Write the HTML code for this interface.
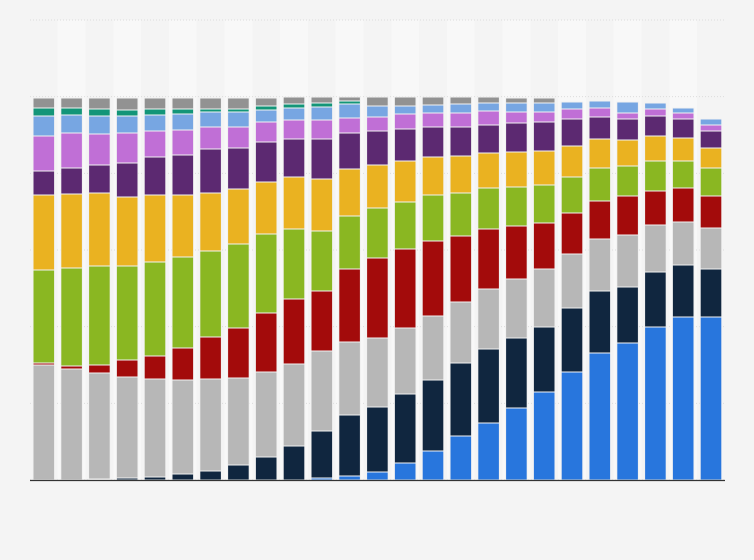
<!DOCTYPE html>
<html><head><meta charset="utf-8"><style>
html,body{margin:0;padding:0;background:#f4f4f4;}
svg{display:block;}
</style></head><body>
<svg id="c" width="754" height="560" xmlns="http://www.w3.org/2000/svg"></svg>
<script>
const cols=["#2876dd","#10263f","#b7b7b7","#a30b0b","#8ab722","#eab221","#5c2971","#c06fd6","#77a6e2","#139578","#929292"];
const d=[
[480,480,365,363,270,195,171,136,116,108,98],
[480,480,369,366,268,194,168,133,115,108,98],
[480,479,373,365,266,193,165,134,116,109,98],
[480,478,377,360,266,197,163,133,116,110,98],
[480,477,379,356,262,195,157,131,115,109,98],
[480,474,380,348,257,195,155,130,114,109,98],
[480,471,379,337,251,193,149,127,112,109,98],
[480,465,378,328,244,189,148,127,112,109,98],
[480,457,372,313,234,182,142,122,110,106,98],
[480,446,364,299,229,177,139,120,108,104,97],
[478,431,351,291,231,179,139,120,107,103,97],
[476,415,342,269,216,169,133,118,104,101,97],
[472,407,338,258,208,165,131,117,106,106,97],
[463,394,328,249,202,161,129,114,106,106,97],
[451,380,316,241,195,157,127,113,105,105,97],
[436,363,302,236,193,156,127,113,104,104,97],
[423,349,289,229,188,153,125,111,103,103,97],
[408,338,279,226,187,152,123,112,103,103,98],
[392,327,269,223,185,151,122,112,103,103,98],
[372,308,254,213,177,146,119,109,102,102,102],
[353,291,239,201,168,139,117,108,101,101,101],
[343,287,235,196,166,140,119,113,102,102,102],
[327,272,225,191,161,136,116,109,103,103,103],
[317,265,222,188,161,138,119,113,108,108,108],
[317,269,228,196,168,148,131,125,119,119,119]];
let s='';
const p=27.8,x0=33,w=21.6;
for(let i=0;i<25;i++){ if(i%2==1) s+=`<rect x="${x0+i*p-3.1}" y="20" width="${p}" height="460" fill="#f8f8f8"/>`; }
for(let k=0;k<7;k++){const y=20+k*76.67; s+=`<line x1="30" x2="725" y1="${y}" y2="${y}" stroke="#dcdcdc" stroke-dasharray="1,2"/>`;}
for(let i=0;i<25;i++){let prev=480;const x=x0+i*p;
 for(let j=0;j<11;j++){const t=d[i][j];if(prev-t>0.5){s+=`<rect x="${x}" y="${t}" width="${w}" height="${prev-t}" fill="${cols[j]}" stroke="#f2f2f2" stroke-width="1"/>`;}prev=t;}}
s+=`<line x1="30" x2="725" y1="480.5" y2="480.5" stroke="#333" stroke-width="1.2"/>`;
document.getElementById('c').innerHTML=s;
</script>
</body></html>
